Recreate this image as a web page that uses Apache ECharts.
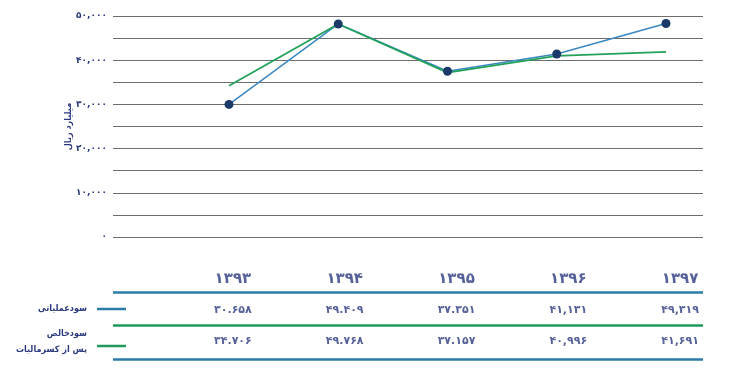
<!DOCTYPE html>
<html>
<head>
<meta charset="utf-8">
<script src="https://cdn.jsdelivr.net/npm/echarts@6/dist/echarts.min.js"></script>
<style>
  html, body { margin: 0; padding: 0; background: #fff; }
  #chart { width: 736px; height: 378px; }
</style>
</head>
<body>
<div id="chart"></div>
<script>
// years on the x axis (Persian calendar)
const YEARS = ['۱۳۹۳', '۱۳۹۴', '۱۳۹۵', '۱۳۹۶', '۱۳۹۷'];
const SERIES_NAMES = ['سودعملیاتی', 'سودخالص\nپس از کسرمالیات'];

// values as plotted in the chart (billion rials)
const OPERATING = [30000, 48200, 37500, 41400, 48300];
const NET = [34200, 48200, 37200, 41000, 41900];

// values printed in the table under the chart
const OPERATING_TEXT = ['۳۰.۶۵۸', '۴۹.۴۰۹', '۳۷.۳۵۱', '۴۱,۱۳۱', '۴۹,۳۱۹'];
const NET_TEXT = ['۳۴.۷۰۶', '۴۹.۷۶۸', '۳۷.۱۵۷', '۴۰,۹۹۶', '۴۱,۶۹۱'];

// y axis
const Y_MAX = 50000;
const Y_STEP = 5000;
const Y_LABEL_STEP = 10000;
const Y_NAME = 'میلیارد ریال';

const NAVY = '#2b3a7e';
const DOT = '#1b3a6a';
const BLUE = '#3b87c2';
const GREEN = '#22a25a';
const TABLE_BLUE = '#2b7ba8';
const TABLE_GREEN = '#1f9a5c';
const FONT = 'DejaVu Sans';
const FONT_NARROW = '"DejaVu Sans Condensed", "DejaVu Sans"';

const toFa = s => String(s).replace(/\d/g, d => '۰۱۲۳۴۵۶۷۸۹'[d]);

const TABLE_ROWS = [YEARS, OPERATING_TEXT, NET_TEXT];
const rowStyle = [
  { fontSize: 15, fontWeight: 'bold' },
  { fontSize: 11, fontWeight: 'bold' },
  { fontSize: 11, fontWeight: 'bold' }
];

const tableData = [];
TABLE_ROWS.forEach((row, r) => {
  row.forEach((txt, c) => {
    tableData.push({
      value: [c, r],
      label: Object.assign({}, rowStyle[r])
    });
  });
});

// row keys on the left of the table
const keyLine = (y, color) => ({
  type: 'line',
  shape: { x1: 97, y1: y, x2: 126, y2: y },
  style: { stroke: color, lineWidth: 2.5 }
});
const keyText = (y, text) => ({
  type: 'text',
  x: 87,
  y: y,
  style: {
    text: text,
    fill: NAVY,
    font: 'bold 9px ' + FONT_NARROW,
    lineHeight: 16,
    align: 'right',
    verticalAlign: 'middle'
  }
});

const chart = echarts.init(document.getElementById('chart'));

chart.setOption({
  animation: false,
  backgroundColor: '#fff',
  textStyle: { fontFamily: FONT },
  grid: [
    { left: 113, right: 33, top: 16, bottom: 141 },   // gridlines + y labels
    { left: 229, right: 70, top: 16, bottom: 141 },   // lines
    { left: 113, right: 33, top: 259, bottom: 19 },   // table rules
    { left: 177, right: 0, top: 263, bottom: 21 }     // table text
  ],
  xAxis: [
    { gridIndex: 0, type: 'value', min: 0, max: 1, show: false },
    { gridIndex: 1, type: 'category', data: YEARS, boundaryGap: false, show: false },
    { gridIndex: 2, type: 'value', min: 0, max: 1, show: false },
    { gridIndex: 3, type: 'category', data: YEARS, show: false }
  ],
  yAxis: [
    {
      gridIndex: 0,
      type: 'value',
      min: 0,
      max: Y_MAX,
      interval: Y_STEP,
      name: Y_NAME,
      nameLocation: 'middle',
      nameRotate: 90,
      nameGap: 40,
      nameMoveOverlap: false,
      nameTextStyle: { color: NAVY, fontSize: 9, fontWeight: 'bold', fontFamily: FONT_NARROW },
      axisLine: { show: false },
      axisTick: { show: false },
      axisLabel: {
        color: NAVY,
        fontSize: 9,
        fontWeight: 'bold',
        margin: 6,
        formatter: v => (v % Y_LABEL_STEP === 0 ? toFa(v.toLocaleString('en-US')) : '')
      },
      splitLine: { lineStyle: { color: '#6e6e6e', width: 1.2 } }
    },
    { gridIndex: 1, type: 'value', min: 0, max: Y_MAX, show: false },
    {
      gridIndex: 2,
      type: 'value',
      inverse: true,
      min: 0,
      max: 3,
      interval: 1,
      axisLine: { show: false },
      axisTick: { show: false },
      axisLabel: { show: false },
      splitLine: {
        lineStyle: { color: ['rgba(0,0,0,0)', TABLE_BLUE, TABLE_GREEN, TABLE_BLUE], width: 2.5 }
      }
    },
    { gridIndex: 3, type: 'category', inverse: true, data: ['0', '1', '2'], show: false }
  ],
  graphic: [
    keyLine(309, TABLE_BLUE),
    keyLine(346, TABLE_GREEN),
    keyText(309, SERIES_NAMES[0]),
    keyText(342, SERIES_NAMES[1])
  ],
  series: [
    {
      name: SERIES_NAMES[0],
      type: 'line',
      xAxisIndex: 1,
      yAxisIndex: 1,
      data: OPERATING,
      symbol: 'circle',
      symbolSize: 9,
      itemStyle: { color: DOT },
      lineStyle: { color: BLUE, width: 1.5 }
    },
    {
      name: SERIES_NAMES[1],
      type: 'line',
      xAxisIndex: 1,
      yAxisIndex: 1,
      data: NET,
      showSymbol: false,
      itemStyle: { color: GREEN },
      lineStyle: { color: GREEN, width: 1.8 }
    },
    {
      type: 'scatter',
      xAxisIndex: 3,
      yAxisIndex: 3,
      silent: true,
      symbolSize: 1,
      itemStyle: { color: 'rgba(0,0,0,0)' },
      label: {
        show: true,
        position: 'inside',
        color: NAVY,
        fontFamily: FONT,
        formatter: p => TABLE_ROWS[p.value[1]][p.value[0]]
      },
      data: tableData
    }
  ]
});
</script>
</body>
</html>
